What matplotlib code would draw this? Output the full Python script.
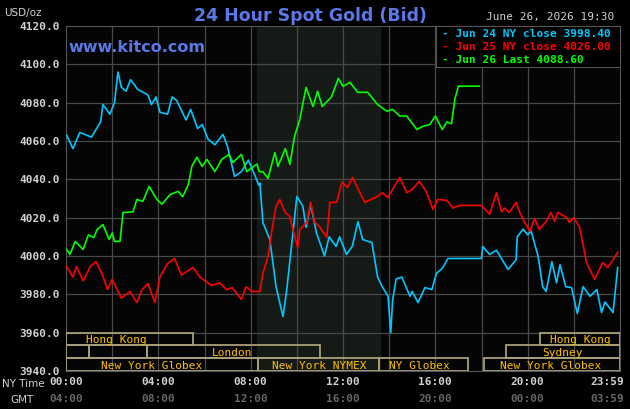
import matplotlib
matplotlib.use("Agg")
import matplotlib.pyplot as plt
from matplotlib.patches import Rectangle

# ---- data (hours since 00:00 NY time, price) ----
blue_h = [0.03,0.3,0.6,1.1,1.5,1.6,1.9,2.1,2.25,2.4,2.6,2.8,3.1,3.55,3.7,3.9,4.07,4.4,4.6,4.8,5.2,5.4,5.7,5.9,6.15,6.45,6.8,7.0,7.3,7.6,7.9,8.2,8.35,8.4,8.53,8.83,9.1,9.4,9.55,9.8,10.0,10.26,10.4,10.6,10.85,11.2,11.4,11.7,11.85,12.15,12.4,12.65,12.85,13.25,13.5,13.7,13.95,14.07,14.15,14.3,14.55,14.9,15.0,15.25,15.55,15.85,16.05,16.3,16.55,16.9,18.0,18.05,18.35,18.65,19.15,19.5,19.55,19.8,20.0,20.15,20.45,20.65,20.8,21.05,21.25,21.4,21.65,21.9,22.15,22.4,22.7,23.0,23.2,23.35,23.7,23.85,23.9]
blue_v = [4063,4056,4064.5,4062,4070,4079,4074,4080,4096,4088,4086,4092,4087,4084,4079,4083,4075,4074,4083,4081,4071,4076.5,4066.5,4068.6,4061,4058,4063.4,4057,4041.5,4044,4050,4041.5,4037,4038,4017.5,4008.6,3984,3968.4,3981,4008.6,4031,4026,4015,4027,4012,4000,4010,4005,4010,4000.8,4005,4018,4008.6,4007,3989,3984,3979,3960,3977,3988,3989,3979,3981.5,3975.7,3983.5,3982.5,3991,3993.5,3998.7,3998.7,3998.7,4005,4000.8,4003,3993,3998,4010,4014,4011,4013,4000,3984,3981.5,3997,3986,3995.5,3984,3983.5,3970,3984,3979,3982.5,3970.5,3976,3970.5,3988,3994]
red_h = [0.03,0.3,0.45,0.75,1.05,1.3,1.55,1.8,2.0,2.4,2.77,3.07,3.3,3.55,3.85,4.07,4.4,4.7,5.0,5.5,5.8,6.3,6.66,6.95,7.2,7.6,7.8,8.05,8.4,8.53,8.75,8.9,9.1,9.26,9.5,9.7,9.83,10.04,10.13,10.43,10.6,10.78,11.0,11.3,11.43,11.73,11.95,12.2,12.42,12.73,12.95,13.4,13.72,13.94,14.15,14.46,14.76,15.0,15.3,15.6,15.9,16.1,16.5,16.76,17.05,18.0,18.35,18.65,18.87,19.0,19.2,19.5,19.65,19.87,20.1,20.3,20.5,20.8,21.0,21.17,21.3,21.7,21.8,22.0,22.25,22.55,22.9,23.25,23.46,23.7,23.9]
red_v = [3994.5,3989,3994.5,3987,3994.5,3997,3991,3982.5,3987.8,3978,3981.5,3975.7,3982.5,3985.6,3975.7,3989,3996,3998.7,3990,3994,3989,3984.6,3986,3982.5,3983.5,3977.3,3984,3981.5,3981.5,3991,3999.7,4012,4026,4029.5,4022.7,4020.6,4013.8,4004.4,4013.8,4017.5,4028,4017.5,4015,4009.6,4028,4028,4038.4,4035.8,4041,4033,4028,4030.5,4033,4030.5,4034.7,4041,4033,4034.7,4039,4033.7,4024.3,4029.5,4029,4025,4026.4,4026.4,4021.7,4033,4023,4025,4022.7,4028,4023,4017.5,4013,4019.6,4013.8,4018,4022.7,4018,4022.7,4020,4017.5,4020,4015,3996.6,3987.8,3996.6,3994,3998,4002]
green_h = [0.03,0.17,0.4,0.74,0.97,1.2,1.35,1.6,1.87,2.0,2.1,2.34,2.47,2.9,3.07,3.33,3.6,3.94,4.16,4.5,4.85,5.06,5.3,5.45,5.67,5.9,6.1,6.45,6.75,7.06,7.23,7.6,7.83,8.05,8.27,8.37,8.53,8.75,9.05,9.18,9.5,9.7,9.9,10.13,10.4,10.7,10.9,11.1,11.5,11.8,12.0,12.3,12.64,13.07,13.5,13.9,14.15,14.46,14.76,15.2,15.45,15.76,16.0,16.3,16.5,16.7,16.85,17.0,17.9]
green_v = [4003.4,4000.8,4007.6,4003.4,4011,4009.6,4013.8,4016.4,4008.6,4012,4007.6,4007.6,4022.7,4023,4029.5,4028.5,4036.3,4029.5,4027,4032,4033.7,4031,4037.3,4046.7,4051.5,4046.7,4050.4,4044,4050.4,4053,4048.8,4053,4044,4046,4048,4044,4044,4040.5,4054,4046.7,4056,4047.8,4062.4,4071.3,4088,4078,4086,4078,4083,4092.7,4088.5,4090.6,4085.4,4085.4,4079,4075.5,4076.5,4073,4073,4066,4067.6,4068.6,4073,4066,4070,4069,4082,4088.6,4088.6]

legend_labels = ["Jun 24 NY close 3998.40", "Jun 25 NY close 4026.00", "Jun 26 Last 4088.60"]
y_ticks = [3940, 3960, 3980, 4000, 4020, 4040, 4060, 4080, 4100, 4120]
x_ticks = [0, 4, 8, 12, 16, 20, 24]
ny_labels = ["00:00", "04:00", "08:00", "12:00", "16:00", "20:00", "23:59"]
gmt_labels = ["04:00", "08:00", "12:00", "16:00", "20:00", "00:00", "03:59"]

# sessions: (row, start, end, label, label_x)
sessions = [
    (0, 0, 5.5, "Hong Kong", 2.2), (0, 20.55, 24, "Hong Kong", 22.3),
    (1, 0, 1.0, "", 0), (1, 1.0, 3.5, "", 0), (1, 3.5, 11.0, "London", 7.2),
    (1, 19.05, 24, "Sydney", 21.5),
    (2, 0, 8.3, "New York Globex", 3.7), (2, 8.3, 13.55, "New York NYMEX", 10.95),
    (2, 13.55, 17.4, "NY Globex", 15.3), (2, 18.1, 24, "New York Globex", 21.0),
]
nymex = (8.27, 13.6)

BLUE, RED, GREEN = "#00c8ff", "#ff0000", "#00ff00"
mono = "DejaVu Sans Mono"

fig = plt.figure(figsize=(6.3, 4.1), dpi=100, facecolor="black")
ax = fig.add_axes([66/630, 1-372/410, (620-66)/630, (372-27)/410], facecolor="#050505")
ax.set_xlim(0, 24)
ax.set_ylim(3940, 4120)
ax.axvspan(*nymex, color="#161a16", zorder=0)
for t in range(2, 24, 2):
    ax.axvline(t, color="#484848", lw=0.9, zorder=1)
for v in y_ticks[1:-1]:
    ax.axhline(v, color="#484848", lw=0.9, zorder=1)

ax.plot(blue_h, blue_v, color=BLUE, lw=1.2, zorder=3)
ax.plot(red_h, red_v, color=RED, lw=1.2, zorder=3)
ax.plot(green_h, green_v, color=GREEN, lw=1.2, zorder=3)

rowh = 20/3
for row, s, e, lab, lx in sessions:
    y0 = 3960 - (row+1)*rowh
    ax.add_patch(Rectangle((s, y0), e-s, rowh, fill=False, ec="#a89f78", lw=1.3, zorder=4))
    if lab:
        ax.text(lx, y0+rowh/2, lab, color="#ffc000", fontsize=8, family=mono,
                ha="center", va="center", zorder=5)

for sp in ax.spines.values():
    sp.set_color("#555555")
ax.set_xticks([]); ax.set_yticks([])

for v in y_ticks:
    ax.text(-0.25, v, f"{v:.1f}", color="#d0d0d0", fontsize=8, family=mono,
            fontweight="bold", ha="right", va="center", transform=ax.transData)
for t, a, b in zip(x_ticks, ny_labels, gmt_labels):
    ha = "right" if t == 24 else "center"
    xx = 24.2 if t == 24 else t
    ax.text(xx, 3935, a, color="#d0d0d0", fontsize=8, family=mono, fontweight="bold",
            ha=ha, va="center", clip_on=False)
    ax.text(xx, 3926, b, color="#666666", fontsize=8, family=mono, fontweight="bold",
            ha=ha, va="center", clip_on=False)
fig.text(2/630, 1-384/410, "NY Time", color="#d0d0d0", fontsize=7.5, va="center")
fig.text(10/630, 1-400/410, "GMT", color="#d0d0d0", fontsize=7.5, va="center")
fig.text(4/630, 1-13/410, "USD/oz", color="#d0d0d0", fontsize=7.5, va="center")

fig.text(310/630, 1-16/410, "24 Hour Spot Gold (Bid)", color="#5a78e6", fontsize=12.5,
         fontweight="bold", ha="center", va="center")
fig.text(68/630, 1-48/410, "www.kitco.com", color="#5a78e6", fontsize=11.5,
         fontweight="bold", ha="left", va="center")
fig.text(614/630, 1-17/410, "June 26, 2026 19:30", color="#d0d0d0", fontsize=8,
         family=mono, ha="right", va="center")

# legend box
lax = fig.add_axes([436/630, 1-68/410, (620-436)/630, 41/410], facecolor="black")
lax.set_xticks([]); lax.set_yticks([])
for sp in lax.spines.values():
    sp.set_color("#555555")
for i, (lab, c) in enumerate(zip(legend_labels, [BLUE, RED, GREEN])):
    lax.text(0.03, 0.83 - i*0.32, "- " + lab, color=c, fontsize=8, family=mono,
             fontweight="bold", ha="left", va="center", transform=lax.transAxes)

fig.savefig("out.png", dpi=100, facecolor="black")
